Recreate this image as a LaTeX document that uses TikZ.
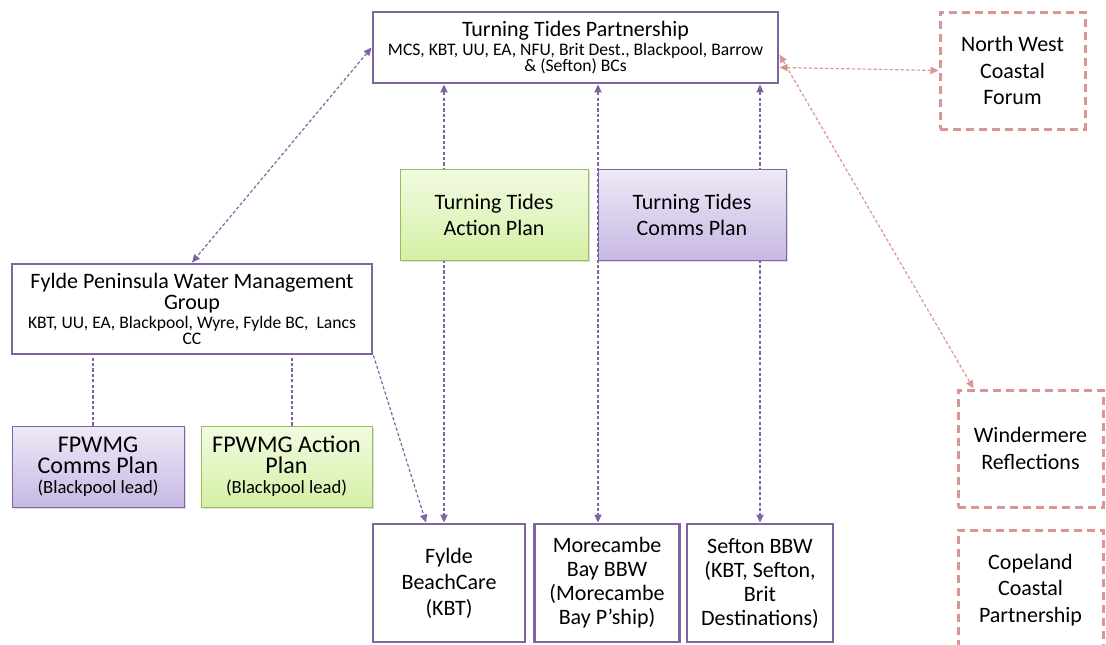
\documentclass[tikz,border=0pt]{standalone}
\usepackage{fontspec}
\setmainfont{Carlito}
\usetikzlibrary{arrows.meta,shadows}

\definecolor{ttpurple}{RGB}{128,100,162}
\definecolor{ttpink}{RGB}{217,150,148}
\definecolor{ttgreen}{RGB}{155,187,89}
\definecolor{greentop}{RGB}{242,251,226}
\definecolor{greenbot}{RGB}{212,240,165}
\definecolor{purptop}{RGB}{238,233,247}
\definecolor{purpbot}{RGB}{199,184,228}

\newcommand{\members}{\fontsize{8.8}{7}\selectfont}
\newcommand{\planname}{\fontsize{12}{12}\selectfont}
\newcommand{\planlead}{\fontsize{9.3}{10}\selectfont}

\tikzset{
  group/.style={draw=ttpurple, line width=1.45pt, fill=white, align=center,
    inner sep=0pt, font=\fontsize{11}{13}\selectfont},
  partner/.style={draw=ttpink, line width=1.5pt, dash pattern=on 4pt off 2.5pt,
    align=center, inner sep=0pt, minimum width=72.5pt, minimum height=58.5pt,
    font=\fontsize{11}{13.3}\selectfont},
  actionplan/.style={draw=ttgreen, line width=0.5pt, top color=greentop,
    bottom color=greenbot, align=center, inner sep=0pt,
    drop shadow={shadow xshift=0.8pt, shadow yshift=-0.8pt, opacity=0.25}},
  commsplan/.style={draw=ttpurple, line width=0.5pt, top color=purptop,
    bottom color=purpbot, align=center, inner sep=0pt,
    drop shadow={shadow xshift=0.8pt, shadow yshift=-0.8pt, opacity=0.25}},
  link/.style={draw=ttpurple, line width=0.6pt, dash pattern=on 1.6pt off 1.1pt},
  pinklink/.style={draw=ttpink, line width=0.6pt, dash pattern=on 1.6pt off 1.1pt}
}

\begin{document}
\begin{tikzpicture}[x=0.5pt, y=-0.5pt, >={Triangle[length=4pt,width=3.6pt]}]
\useasboundingbox (0,0) rectangle (1106,644);
%% partnership and groups
\node[group, minimum width=202.5pt, minimum height=35.5pt] (ttp) at (575.5,47.5)
  {Turning Tides Partnership\\[-3.5pt]
   \members MCS, KBT, UU, EA, NFU, Brit Dest., Blackpool, Barrow\\[-4.6pt] \members \& (Sefton) BCs};
\node[group, minimum width=180pt, minimum height=45pt] (fpwmg) at (192,309)
  {Fylde Peninsula Water Management\\[-2.5pt] Group\\[-3.5pt]
   \members KBT, UU, EA, Blackpool, Wyre, Fylde BC,\ \ Lancs\\[-4.6pt] \members CC};
%% beach care groups
\node[group, minimum width=76pt, minimum height=59pt] (fbc) at (449,583)
  {Fylde\\ BeachCare\\ (KBT)};
\node[group, minimum width=72.5pt, minimum height=59pt, font=\fontsize{11}{12}\selectfont] (mbb) at (607,583)
  {Morecambe\\ Bay BBW\\ (Morecambe\\ Bay P’ship)};
\node[group, minimum width=73pt, minimum height=59pt, font=\fontsize{11}{12}\selectfont] (sbbw) at (760,583)
  {Sefton BBW\\ (KBT, Sefton,\\ Brit\\ Destinations)};
%% other partnerships
\node[partner] (nwcf) at (1012.5,70.5) {North West\\ Coastal\\ Forum};
\node[partner] (wind) at (1030.5,448.5) {Windermere\\ Reflections};
\node[partner, minimum height=60pt] (cope) at (1030.5,590) {Copeland\\ Coastal\\ Partnership};
%% plans of the group
\node[commsplan, minimum width=86pt, minimum height=40.5pt, font=\planname] (fpcp) at (98,466.5)
  {\planname FPWMG\\[-1.5pt] \planname Comms Plan\\[-2pt] \planlead (Blackpool lead)};
\node[actionplan, minimum width=85.5pt, minimum height=40.5pt, font=\planname] (fpap) at (286.5,466.5)
  {\planname FPWMG Action\\[-1.5pt] \planname Plan\\[-2pt] \planlead (Blackpool lead)};
%%% edges
\draw[link, <->] (ttp.west) -- (fpwmg.north);
\draw[link, <->] ([xshift=-2.5pt]ttp.south -| fbc.north) -- ([xshift=-2.5pt]fbc.north);
\draw[link, <->] ([xshift=-4.5pt]ttp.south -| mbb.north) -- ([xshift=-4.5pt]mbb.north);
\draw[link, <->] (ttp.south -| sbbw.north) -- (sbbw.north);
\draw[link, ->] (fpwmg.south east) -- ([xshift=-11.5pt]fbc.north);
\draw[link] ([xshift=-2.5pt]fpcp.north) -- ([xshift=-2.5pt]fpcp.north |- fpwmg.south);
\draw[link] ([xshift=2.75pt]fpap.north) -- ([xshift=2.75pt]fpap.north |- fpwmg.south);
\draw[pinklink, <->] ([yshift=-10pt]ttp.east) -- (nwcf.west);
\draw[pinklink, <->] ([yshift=-3.5pt]ttp.east) -- ([xshift=-28.5pt]wind.north);
%% plans of the partnership
\node[actionplan, minimum width=94pt, minimum height=45.5pt, font=\fontsize{11}{13}\selectfont] (ttap) at (494,214.5)
  {Turning Tides\\ Action Plan};
\node[commsplan, minimum width=94pt, minimum height=45.5pt, font=\fontsize{11}{13}\selectfont] (ttcp) at (692,214.5)
  {Turning Tides\\ Comms Plan};
\end{tikzpicture}
\end{document}
